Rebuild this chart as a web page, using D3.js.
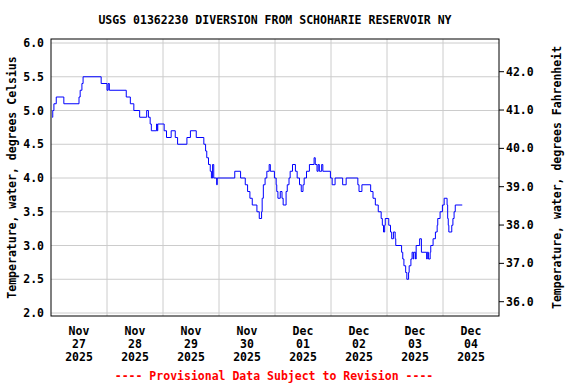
<!DOCTYPE html>
<html>
<head>
<meta charset="utf-8">
<script src="https://cdn.jsdelivr.net/npm/d3@7"></script>
<style>
  body { margin: 0; background: #fff; }
  text { font-family: "DejaVu Sans Mono", monospace; font-weight: bold; }
</style>
</head>
<body>
<div id="svg_chart"></div>
<script>
// data: hours since Nov 27 2025 00:00, temperature (deg C) at each step change
const hours = [0.5, 0.75, 1.25, 2.25, 5.5, 12, 12.5, 13.25, 13.75, 21.5, 24, 24.5, 25,
  32.25, 34, 35.5, 38, 41, 41.75, 42.5, 43, 45.25, 45.5, 45.75, 48.5, 49.5, 51.5, 53.25,
  54.25, 58.25, 59.75, 62.25, 65.5, 66.25, 66.75, 67.5, 68.25, 68.75, 69.25, 69.75, 71, 71.25,
  78.75, 81.25, 83.25, 84.25, 85.25, 86.25, 88.25, 89.25, 90.25, 90.5, 91, 91.75, 92.5, 93.5,
  94, 95.75, 96.5, 96.75, 97.25, 98.25, 99, 99.5, 100.75, 101.25, 102, 102.5, 103.5, 104.75,
  105.5, 106.5, 107.25, 108, 108.5, 109.5, 110.75, 112.75, 113.25, 114, 114.5, 115, 116,
  116.5, 119.75, 120.5, 121.75, 125, 126.5, 131.5, 132, 133.25, 137, 138, 139, 140.25, 141.5,
  142, 142.5, 143, 143.25, 144.75, 145.5, 146, 146.75, 147.5, 147.75, 150.25, 150.75, 151.25,
  152, 152.5, 153.25, 153.5, 154.25, 154.75, 155.25, 155.5, 156.25, 156.5, 158, 158.75, 161,
  161.25, 161.75, 162.5, 162.75, 163.75, 164.75, 165.5, 165.75, 166.75, 167.75, 168.5, 169.75,
  170, 170.25, 170.5, 171.75, 172.25, 172.75, 173.25, 176.25];
const tempC = [4.9, 5.0, 5.1, 5.2, 5.1, 5.2, 5.3, 5.4, 5.5, 5.4, 5.3, 5.4, 5.3,
  5.2, 5.1, 5.0, 4.9, 5.0, 4.9, 4.8, 4.7, 4.8, 4.7, 4.8, 4.7, 4.6, 4.7, 4.6,
  4.5, 4.6, 4.7, 4.6, 4.5, 4.4, 4.3, 4.2, 4.1, 4.0, 4.2, 4.0, 3.9, 4.0,
  4.1, 4.0, 3.9, 3.8, 3.7, 3.6, 3.5, 3.4, 3.5, 3.7, 3.9, 4.0, 4.1, 4.2,
  4.1, 4.0, 3.9, 3.8, 3.7, 3.8, 3.7, 3.6, 3.8, 3.9, 4.0, 4.1, 4.2, 4.1,
  4.0, 3.9, 3.8, 3.9, 4.0, 4.1, 4.2, 4.3, 4.2, 4.1, 4.2, 4.1, 4.2,
  4.1, 4.0, 3.9, 4.0, 3.9, 4.0, 3.9, 3.8, 3.9, 3.8, 3.7, 3.6, 3.5, 3.4,
  3.3, 3.2, 3.3, 3.4, 3.3, 3.2, 3.1, 3.2, 3.1, 3.0, 2.9, 2.8, 2.7,
  2.6, 2.5, 2.6, 2.7, 2.8, 2.9, 2.8, 2.9, 2.8, 3.0, 3.1, 2.9, 2.8,
  2.9, 2.8, 2.9, 3.0, 3.1, 3.2, 3.3, 3.4, 3.5, 3.6, 3.7, 3.6,
  3.4, 3.3, 3.2, 3.3, 3.4, 3.5, 3.6, 3.6];
const dayTicks = ["2025-11-27", "2025-11-28", "2025-11-29", "2025-11-30",
  "2025-12-01", "2025-12-02", "2025-12-03", "2025-12-04"];
const cTicks = [2.0, 2.5, 3.0, 3.5, 4.0, 4.5, 5.0, 5.5, 6.0];
const fTicks = [36, 37, 38, 39, 40, 41, 42];

const width = 576, height = 384;
const pLeft = 51, pRight = 499, pTop = 39, pBottom = 316;

const svg = d3.select('#svg_chart').append('svg')
  .attr('width', width)
  .attr('height', height);

const t0 = Date.UTC(2025, 10, 27);
const x = d3.scaleUtc()
  .domain([new Date(t0), new Date(Date.UTC(2025, 11, 5))])
  .range([pLeft, pRight]);
const y = d3.scaleLinear().domain([2, 6]).range([313, 43]);
const yF = d3.scaleLinear().domain([36, 42]).range([301.7, 71.7]);

const data = hours.map((h, i) => ({ t: new Date(t0 + h * 3600e3), v: tempC[i] }));

// grid
svg.append('g').selectAll('line').data(cTicks).enter().append('line')
  .attr('x1', pLeft).attr('x2', pRight)
  .attr('y1', d => y(d)).attr('y2', d => y(d))
  .attr('stroke', '#cccccc').attr('stroke-width', 1);
svg.append('g').selectAll('line').data(dayTicks.slice(1)).enter().append('line')
  .attr('x1', d => x(new Date(d + 'T00:00:00Z'))).attr('x2', d => x(new Date(d + 'T00:00:00Z')))
  .attr('y1', pTop).attr('y2', pBottom)
  .attr('stroke', '#cccccc').attr('stroke-width', 1);

// temperature line
svg.append('path')
  .datum(data)
  .attr('fill', 'none')
  .attr('stroke', '#0000ff')
  .attr('stroke-width', 1)
  .attr('d', d3.line().x(d => x(d.t)).y(d => y(d.v)).curve(d3.curveStepAfter));

// frame
svg.append('rect')
  .attr('x', pLeft).attr('y', pTop)
  .attr('width', pRight - pLeft).attr('height', pBottom - pTop)
  .attr('fill', 'none').attr('stroke', 'black').attr('stroke-width', 1);

// left axis labels
svg.append('g').selectAll('text').data(cTicks).enter().append('text')
  .attr('x', 44).attr('y', d => y(d) + 4)
  .attr('text-anchor', 'end').attr('font-size', 11.5)
  .text(d => d.toFixed(1));

// right axis ticks + labels
const rAxis = svg.append('g');
rAxis.selectAll('line').data(fTicks).enter().append('line')
  .attr('x1', pRight).attr('x2', pRight + 5)
  .attr('y1', d => yF(d)).attr('y2', d => yF(d))
  .attr('stroke', 'black');
rAxis.selectAll('text').data(fTicks).enter().append('text')
  .attr('x', 506).attr('y', d => yF(d) + 4)
  .attr('font-size', 11.5)
  .text(d => d.toFixed(1));

// x labels at noon of each day
const fmtM = d3.utcFormat('%b'), fmtD = d3.utcFormat('%d'), fmtY = d3.utcFormat('%Y');
const xl = svg.append('g').selectAll('text').data(dayTicks).enter().append('text')
  .attr('text-anchor', 'middle').attr('font-size', 11.5)
  .attr('transform', d => `translate(${x(new Date(d + 'T12:00:00Z'))},0)`);
xl.append('tspan').attr('x', 0).attr('y', 335).text(d => fmtM(new Date(d + 'T12:00:00Z')));
xl.append('tspan').attr('x', 0).attr('y', 348).text(d => fmtD(new Date(d + 'T12:00:00Z')));
xl.append('tspan').attr('x', 0).attr('y', 361).text(d => fmtY(new Date(d + 'T12:00:00Z')));

// titles
svg.append('text')
  .attr('x', 275).attr('y', 24)
  .attr('text-anchor', 'middle').attr('font-size', 11.5)
  .text('USGS 01362230 DIVERSION FROM SCHOHARIE RESERVOIR NY');

svg.append('text')
  .attr('transform', `translate(16, ${(pTop + pBottom) / 2}) rotate(-90)`)
  .attr('text-anchor', 'middle').attr('font-size', 11.5)
  .text('Temperature, water, degrees Celsius');

svg.append('text')
  .attr('transform', `translate(561, ${(pTop + pBottom) / 2}) rotate(-90)`)
  .attr('text-anchor', 'middle').attr('font-size', 11.5)
  .text('Temperature, water, degrees Fahrenheit');

svg.append('text')
  .attr('x', 274).attr('y', 380)
  .attr('text-anchor', 'middle').attr('font-size', 11.5)
  .attr('fill', '#ff0000')
  .text('---- Provisional Data Subject to Revision ----');
</script>
</body>
</html>
